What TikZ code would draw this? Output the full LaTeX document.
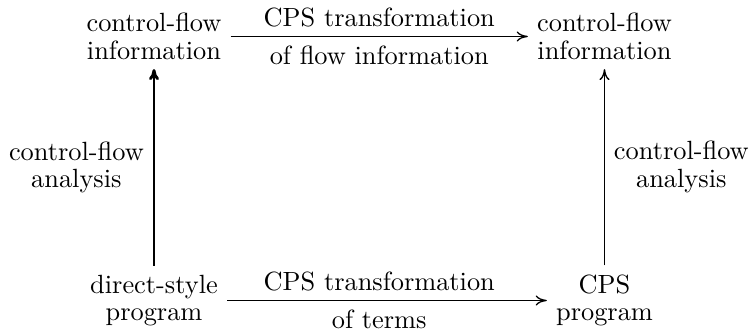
\documentclass[tikz,border=0pt]{standalone}
\usetikzlibrary{calc,arrows.meta}
\begin{document}
\begin{tikzpicture}[x=0.3795pt,y=-0.3795pt,
  obj/.style={align=center,font=\fontsize{10}{10.5}\selectfont,inner sep=3.33pt},
  lbl/.style={align=center,font=\fontsize{10}{10.5}\selectfont,inner sep=3.33pt},
  thinarrow/.style={-{To[length=4.2pt,width=3.8pt]},line width=0.5pt},
  thickarrow/.style={-{To[length=4.2pt,width=3.8pt]},line width=1.1pt}]
\useasboundingbox (0,0) rectangle (750,332);
\node[obj] (TL) at (154,36.5) {control-flow\\information};
\node[obj] (TR) at (604.5,36.5) {control-flow\\information};
\node[obj] (BL) at (154,300.5) {direct-style\\program};
\node[obj] (BR) at (604.5,300.5) {CPS\\program};
\draw[thinarrow] (TL) -- (TR);
\draw[thinarrow] (BL) -- (BR);
\draw[thickarrow] (BL) -- (TL) node[midway,left,lbl] {control-flow\\analysis};
\draw[thinarrow] (BR) -- (TR) node[midway,right,lbl] {control-flow\\analysis};
\coordinate (TM) at ($(TL)!0.5!(TR)$);
\coordinate (BM) at ($(BL)!0.5!(BR)$);
\node[lbl,anchor=south] (TA) at (TM) {CPS transformation};
\node[lbl,anchor=north] (TB) at (TM) {of flow information};
\node[lbl,anchor=south] (BA) at (BM) {CPS transformation};
\node[lbl,anchor=north] (BB) at (BM) {of terms};
\end{tikzpicture}
\end{document}
